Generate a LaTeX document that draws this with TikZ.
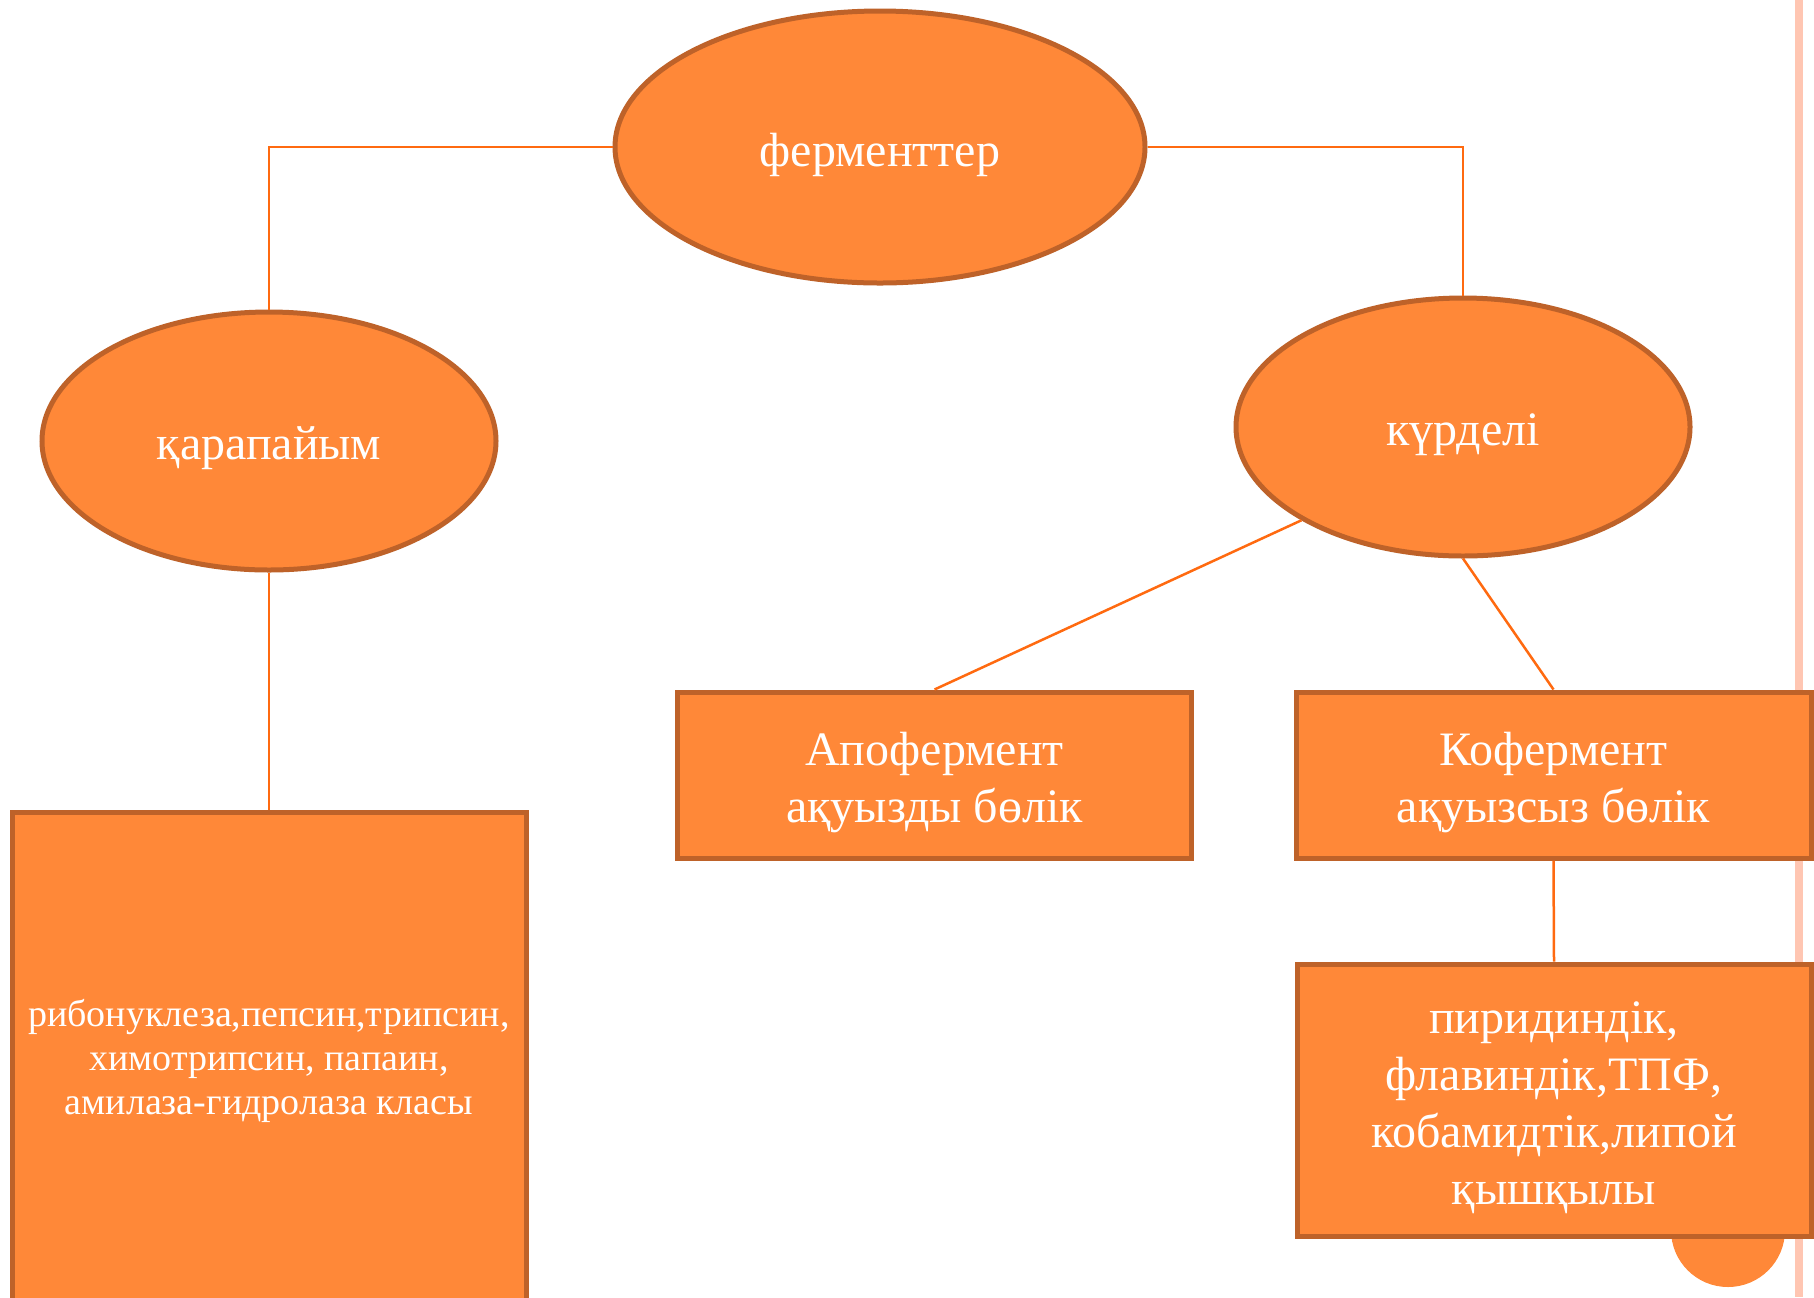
\documentclass[tikz,border=0pt]{standalone}
\usepackage{fontspec}
\setmainfont{Liberation Serif}
\usetikzlibrary{shapes.geometric}
\definecolor{fillor}{HTML}{FF8838}
\definecolor{bordor}{HTML}{BE6229}
\definecolor{lineor}{HTML}{FF6A10}
\definecolor{stripe}{HTML}{FFC6B2}
\tikzset{
  ell/.style={ellipse, draw=bordor, fill=fillor, line width=2.5pt, inner sep=0pt},
  boxn/.style={rectangle, draw=bordor, fill=fillor, line width=2.5pt, inner sep=0pt},
  lbl/.style={text=white, font=\fontsize{24}{28.5}\selectfont, align=center, inner sep=0pt},
  conn/.style={draw=lineor, line width=1.25pt}
}
\begin{document}
\begin{tikzpicture}[x=0.5pt, y=-0.5pt]
\useasboundingbox (0,0) rectangle (1814,1297);
\clip (0,0) rectangle (1814,1297);
\fill[white] (0,0) rectangle (1814,1297);
% decorative stripe and circle
\fill[stripe] (1795,0) rectangle (1803,1297);
\fill[fillor] (1728,1230) circle[radius=57];
% shapes
\node[ell, minimum width=265pt, minimum height=136pt] (ferm) at (880,147) {};
\node[ell, minimum width=227pt, minimum height=129pt] (karap) at (269,441) {};
\node[ell, minimum width=227pt, minimum height=129pt] (kurd) at (1463,427) {};
\node[boxn, minimum width=257pt, minimum height=83pt] (apo) at (934.5,775) {};
\node[boxn, minimum width=257.5pt, minimum height=83pt] (kof) at (1553.5,775) {};
\node[boxn, minimum width=257pt, minimum height=136pt] (pir) at (1554,1100) {};
\node[boxn, minimum width=257pt, minimum height=245pt] (rib) at (269,1057) {};
% texts
\node[lbl] (fermT) at ([yshift=-3.75pt]ferm.center) {ферменттер};
\node[lbl] (karapT) at ([yshift=-3.75pt]karap.center) {қарапайым};
\node[lbl] (kurdT) at ([yshift=-3.75pt]kurd.center) {күрделі};
\node[lbl] (apoT) at ([yshift=-3.75pt]apo.center) {Апофермент\\ақуызды бөлік};
\node[lbl] (kofT) at ([yshift=-3.75pt]kof.center) {Кофермент\\ақуызсыз бөлік};
\node[lbl] (pirT) at ([yshift=-3.75pt]pir.center) {пиридиндік,\\флавиндік,ТПФ,\\кобамидтік,липой\\қышқылы};
\node[lbl, font=\fontsize{19}{22}\selectfont] (ribT) at ([yshift=-1.75pt]rib.center) {рибонуклеза,пепсин,трипсин,\\химотрипсин, папаин,\\амилаза-гидролаза класы};
% connectors
\draw[conn] (ferm.west) -| (karap.north);
\draw[conn] (ferm.east) -| (kurd.north);
\draw[conn] (karap.south) -- (rib.north);
\draw[conn] (kurd.210) -- (apo.north);
\draw[conn] (kurd.south) -- (kof.north);
\draw[conn] (kof.south) -- (pir.north);
\end{tikzpicture}
\end{document}
